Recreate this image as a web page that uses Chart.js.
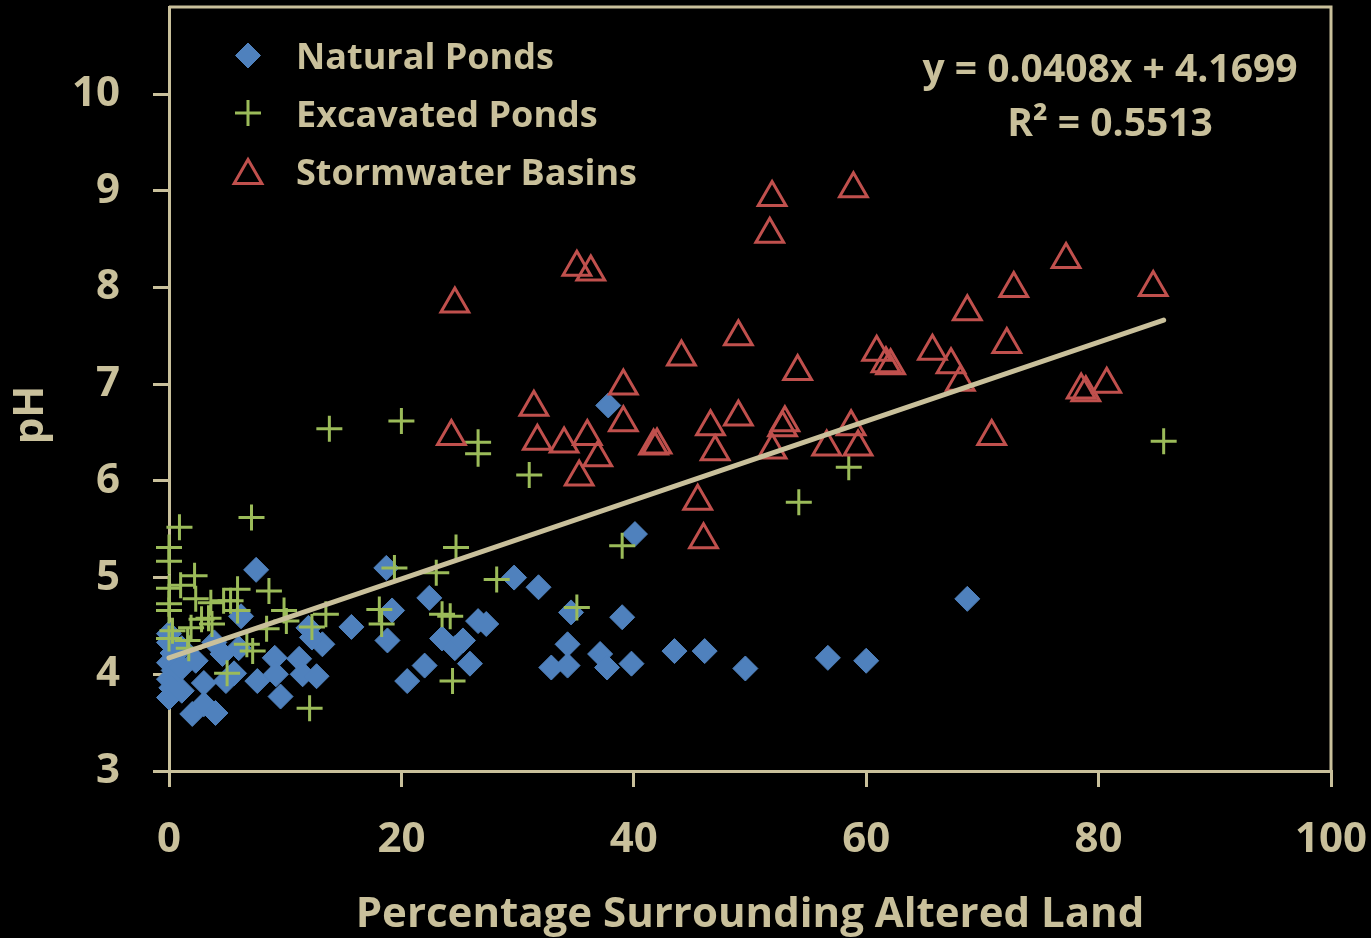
<!DOCTYPE html>
<html>
<head>
<meta charset="utf-8">
<title>pH vs altered land</title>
<script src="https://cdn.jsdelivr.net/npm/chart.js@4.4.1/dist/chart.umd.min.js"></script>
<style>
  html, body { margin: 0; padding: 0; background: #000; }
  #wrap { width: 1371px; height: 938px; }
</style>
</head>
<body>
<div id="wrap"><canvas id="chart" width="1371" height="938"></canvas></div>
<script>
// ---- data: % surrounding altered land (x) and pH (y) ----
const naturalX = [0, 0, 0.3, 0, 0.4, 0, 0.2, 0, 1.1, 1.1, 1.1, 2.0, 2.3, 3.0, 3.0, 3.9, 4.0, 4.6, 4.9, 5.6,
  6.0, 6.2, 7.5, 7.6, 9.1, 9.2, 9.6, 11.2, 11.5, 12.7, 12.0, 13.2, 12.3, 15.7, 18.7, 19.2, 18.8, 20.5, 22.0, 22.4,
  23.5, 24.6, 25.3, 25.9, 26.6, 27.3, 29.7, 31.8, 32.9, 34.3, 34.3, 34.6, 37.1, 37.7, 37.8, 39.0, 39.8, 40.1, 43.5, 46.1,
  49.6, 56.7, 60.0, 68.7];
const naturalPH = [4.42, 4.33, 4.22, 4.12, 4.04, 3.95, 3.86, 3.76, 3.83, 4.27, 4.07, 3.59, 4.14, 3.91, 3.69, 4.33, 3.60, 4.21, 3.93, 4.01,
  4.27, 4.60, 5.08, 3.93, 4.17, 4.00, 3.77, 4.16, 4.00, 3.98, 4.48, 4.31, 4.38, 4.49, 5.10, 4.66, 4.35, 3.93, 4.09, 4.79,
  4.37, 4.27, 4.35, 4.11, 4.55, 4.52, 5.00, 4.90, 4.07, 4.09, 4.31, 4.64, 4.21, 4.07, 6.78, 4.59, 4.11, 5.45, 4.24, 4.24,
  4.06, 4.17, 4.14, 4.78];

const excavatedX = [0, 0, 0.9, 0, 1.0, 2.2, 0, 0, 2.3, 3.6, 3.4, 4.7, 5.3, 5.9, 5.9, 7.1, 8.6, 8.4, 9.9, 10.1,
  2.8, 1.9, 0.3, 0, 1.6, 1.7, 3.7, 6.7, 7.2, 5.0, 12.1, 12.3, 13.5, 13.8, 18.1, 18.3, 19.4, 20.0, 23.0, 23.5,
  24.2, 24.4, 24.7, 26.6, 26.6, 28.2, 31.0, 35.1, 39.0, 54.2, 58.5, 85.6];
const excavatedPH = [5.31, 5.17, 5.52, 4.89, 4.92, 5.02, 4.73, 4.66, 4.78, 4.74, 4.58, 4.76, 4.76, 4.88, 4.66, 5.62, 4.86, 4.47, 4.66, 4.55,
  4.57, 4.48, 4.45, 4.37, 4.35, 4.27, 4.52, 4.31, 4.24, 4.01, 3.65, 4.49, 4.62, 6.54, 4.67, 4.52, 5.10, 6.62, 5.05, 4.62,
  4.60, 3.93, 5.31, 6.40, 6.28, 4.98, 6.06, 4.69, 5.33, 5.78, 6.14, 6.41];

const stormX = [24.6, 35.1, 36.3, 51.9, 51.7, 58.9, 77.2, 84.7, 72.7, 68.7, 72.1, 49.0, 44.1, 60.9, 65.7, 67.3,
  61.7, 62.1, 54.1, 39.1, 68.1, 78.5, 78.9, 80.7, 31.4, 39.1, 49.0, 46.6, 53.0, 52.8, 58.7, 70.8,
  24.3, 31.7, 34.0, 36.0, 36.9, 35.3, 41.7, 42.0, 47.0, 51.9, 56.6, 59.3, 45.5, 46.0];
const stormPH = [7.83, 8.21, 8.16, 8.93, 8.55, 9.02, 8.29, 8.00, 7.99, 7.75, 7.41, 7.49, 7.28, 7.33, 7.34, 7.20,
  7.21, 7.19, 7.13, 6.98, 7.02, 6.94, 6.91, 7.00, 6.76, 6.60, 6.66, 6.56, 6.60, 6.55, 6.56, 6.46,
  6.46, 6.41, 6.38, 6.46, 6.24, 6.04, 6.36, 6.37, 6.30, 6.32, 6.35, 6.35, 5.79, 5.39];

// linear fit over all ponds
const trendSlope = 0.0408;
const trendIntercept = 4.1699;
const trendR2 = '0.5513';

// axis ranges
const xTicks = [0, 20, 40, 60, 80, 100];
const yTicks = [3, 4, 5, 6, 7, 8, 9, 10];
const yTop = 10.9;

// ---- styling ----
const TAN = '#C9C09B';
const FONT = "'Open Sans', 'DejaVu Sans', sans-serif";
const BLUE = '#4F81BD';
const GREEN = '#9BBB59';
const RED = '#C0504D';

Chart.defaults.font.family = FONT;
Chart.defaults.font.weight = 'bold';
Chart.defaults.color = TAN;

const pairs = (xs, ys) => xs.map((x, i) => ({ x, y: ys[i] }));
const allX = naturalX.concat(excavatedX, stormX);
const trendEnd = Math.max(...allX);
const trendPoints = [0, trendEnd].map(x => ({ x, y: trendSlope * x + trendIntercept }));

// frame, legend, y title and fit equation
const decorations = {
  id: 'decorations',
  beforeDatasetsDraw(chart) {
    const { ctx, chartArea: a } = chart;
    ctx.save();
    ctx.strokeStyle = TAN;
    ctx.lineWidth = 3;
    ctx.beginPath();
    ctx.moveTo(a.left, a.top);
    ctx.lineTo(a.right, a.top);
    ctx.lineTo(a.right, a.bottom);
    ctx.stroke();
    ctx.restore();
  },
  afterDraw(chart) {
    const ctx = chart.ctx;
    ctx.save();
    ctx.fillStyle = TAN;

    // y axis title
    ctx.save();
    ctx.font = `bold 42px ${FONT}`;
    ctx.translate(43, 415);
    ctx.rotate(-Math.PI / 2);
    ctx.textAlign = 'center';
    ctx.textBaseline = 'alphabetic';
    ctx.fillText('pH', 0, 0);
    ctx.restore();

    // regression equation
    ctx.font = `bold 39px ${FONT}`;
    ctx.textAlign = 'center';
    ctx.textBaseline = 'alphabetic';
    ctx.fillText(`y = ${trendSlope}x + ${trendIntercept}`, 1110, 82);
    ctx.fillText(`R\u00B2 = ${trendR2}`, 1110, 136);

    // legend
    const rows = [
      { ds: 0, my: 55.5, ty: 69 },
      { ds: 1, my: 113, ty: 127 },
      { ds: 2, my: 175.5, ty: 185 }
    ];
    ctx.font = `bold 36px ${FONT}`;
    ctx.textAlign = 'left';
    rows.forEach(r => {
      const d = chart.data.datasets[r.ds];
      ctx.save();
      ctx.fillStyle = d.backgroundColor;
      ctx.strokeStyle = d.borderColor;
      ctx.lineWidth = d.borderWidth;
      Chart.helpers.drawPoint(ctx, {
        pointStyle: d.pointStyle,
        rotation: 0,
        radius: d.pointRadius,
        borderWidth: d.borderWidth
      }, 248, r.my);
      ctx.restore();
      ctx.fillStyle = TAN;
      ctx.fillText(d.label, 296, r.ty);
    });
    ctx.restore();
  }
};

new Chart(document.getElementById('chart'), {
  type: 'scatter',
  data: {
    datasets: [
      {
        label: 'Natural Ponds',
        data: pairs(naturalX, naturalPH),
        pointStyle: 'rectRot',
        pointRadius: 12.5,
        pointHoverRadius: 12.5,
        backgroundColor: BLUE,
        borderColor: BLUE,
        borderWidth: 1,
        order: 3,
        clip: false
      },
      {
        label: 'Excavated Ponds',
        data: pairs(excavatedX, excavatedPH),
        pointStyle: 'cross',
        pointRadius: 13,
        pointHoverRadius: 13,
        backgroundColor: GREEN,
        borderColor: GREEN,
        borderWidth: 3,
        order: 2,
        clip: false
      },
      {
        label: 'Stormwater Basins',
        data: pairs(stormX, stormPH),
        pointStyle: 'triangle',
        pointRadius: 16,
        pointHoverRadius: 16,
        backgroundColor: 'rgba(0,0,0,0)',
        borderColor: RED,
        borderWidth: 3,
        order: 1,
        clip: false
      },
      {
        label: 'Linear fit',
        data: trendPoints,
        showLine: true,
        pointRadius: 0,
        pointHoverRadius: 0,
        borderColor: TAN,
        borderWidth: 5,
        borderCapStyle: 'round',
        fill: false,
        order: 0,
        clip: false
      }
    ]
  },
  options: {
    responsive: false,
    animation: false,
    events: [],
    layout: { autoPadding: false, padding: { top: 7, right: 40, bottom: 0, left: 0 } },
    plugins: {
      legend: { display: false },
      tooltip: { enabled: false }
    },
    scales: {
      x: {
        type: 'linear',
        min: xTicks[0],
        max: xTicks[xTicks.length - 1],
        afterBuildTicks: s => { s.ticks = xTicks.map(v => ({ value: v })); },
        afterFit: s => { s.height = 167; s.paddingLeft = 0; s.paddingRight = 0; },
        grid: { display: true, drawOnChartArea: false, drawTicks: true, tickLength: 16, color: TAN, lineWidth: 3 },
        border: { display: true, color: TAN, width: 3 },
        ticks: { color: TAN, font: { size: 42, weight: 'bold' }, padding: 28, maxRotation: 0 },
        title: {
          display: true,
          text: 'Percentage Surrounding Altered Land',
          color: TAN,
          font: { size: 42, weight: 'bold', lineHeight: 1 },
          padding: { top: 0, bottom: 2 }
        }
      },
      y: {
        type: 'linear',
        min: yTicks[0],
        max: yTop,
        afterBuildTicks: s => { s.ticks = yTicks.map(v => ({ value: v })); },
        afterFit: s => { s.width = 169; s.paddingTop = 0; s.paddingBottom = 0; },
        grid: { display: true, drawOnChartArea: false, drawTicks: true, tickLength: 16, color: TAN, lineWidth: 3 },
        border: { display: true, color: TAN, width: 3 },
        ticks: { color: TAN, font: { size: 42, weight: 'bold' }, padding: 33 }
      }
    }
  },
  plugins: [decorations]
});
</script>
</body>
</html>
